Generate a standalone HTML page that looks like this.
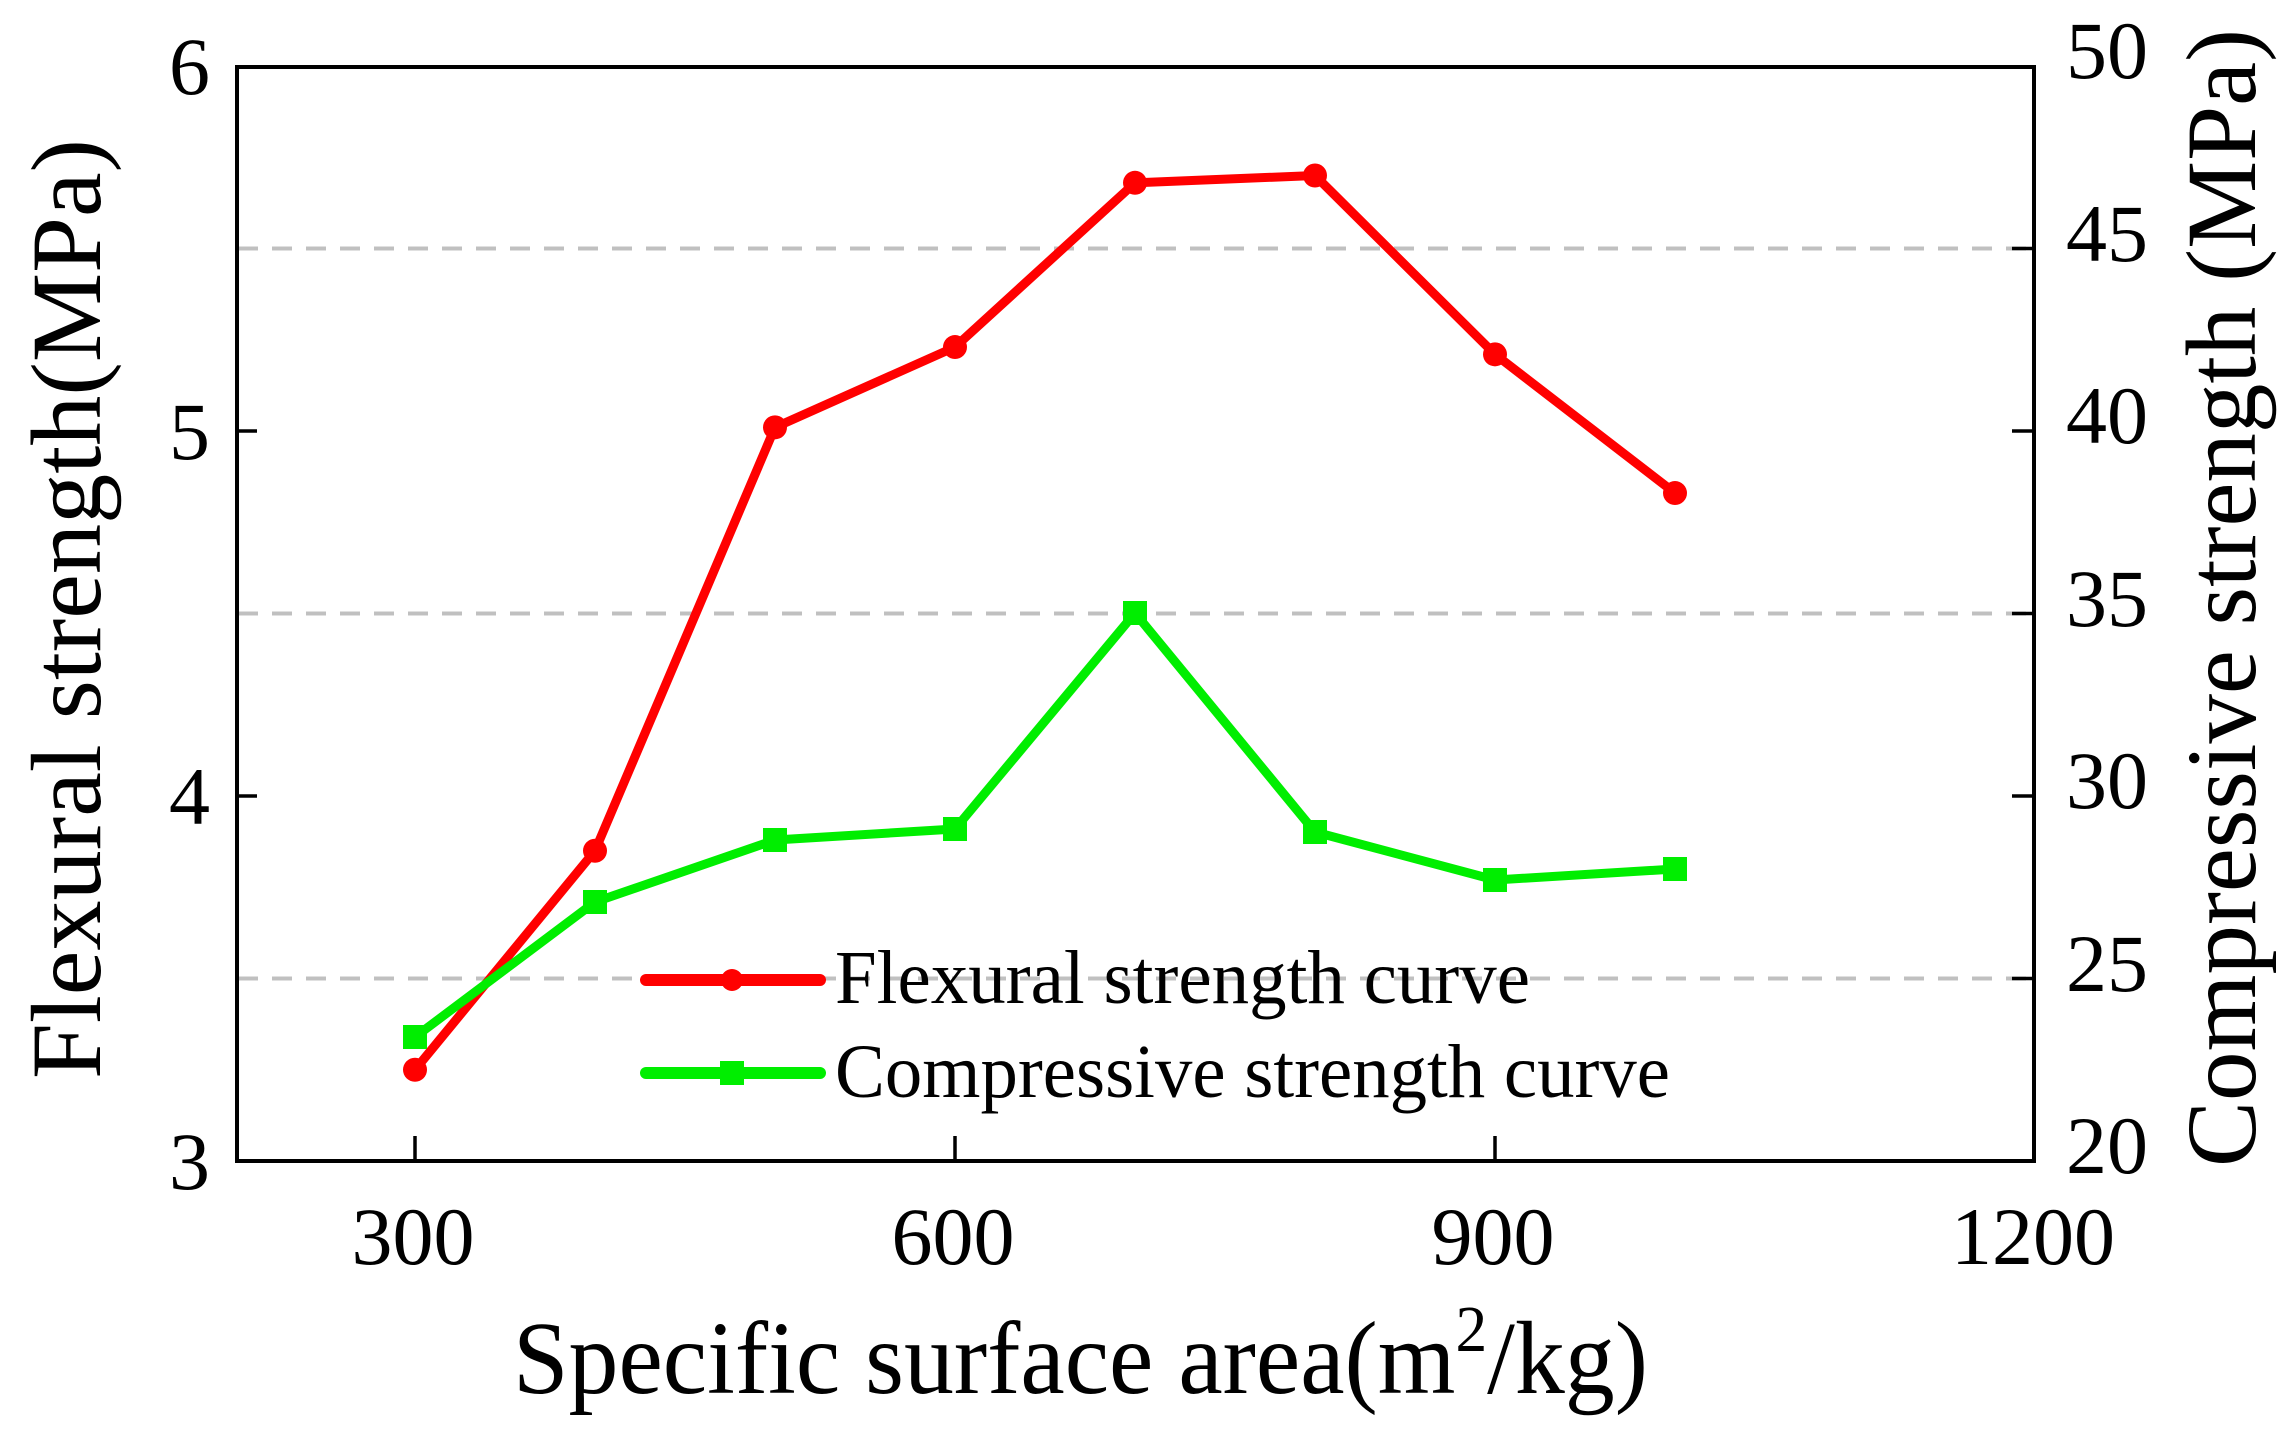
<!DOCTYPE html>
<html><head><meta charset="utf-8"><style>html,body{margin:0;padding:0;background:#fff}svg{display:block}text{font-family:"Liberation Serif",serif;fill:#000}</style></head><body>
<svg width="2287" height="1432" viewBox="0 0 2287 1432" xmlns="http://www.w3.org/2000/svg">
<g stroke="#c0c0c0" stroke-width="4" stroke-dasharray="20,14">
<line x1="238" y1="248.5" x2="2032" y2="248.5"/>
<line x1="238" y1="613.5" x2="2032" y2="613.5"/>
<line x1="238" y1="978.5" x2="2032" y2="978.5"/>
</g>
<rect x="237" y="67" width="1797" height="1094" fill="none" stroke="#000" stroke-width="4"/>
<g stroke="#000" stroke-width="3.5">
<line x1="237" y1="431" x2="257" y2="431"/><line x1="237" y1="796" x2="257" y2="796"/>
<line x1="2034" y1="248.5" x2="2012" y2="248.5"/><line x1="2034" y1="431" x2="2012" y2="431"/><line x1="2034" y1="613.5" x2="2012" y2="613.5"/><line x1="2034" y1="796" x2="2012" y2="796"/><line x1="2034" y1="978.5" x2="2012" y2="978.5"/>
<line x1="415" y1="1161" x2="415" y2="1136"/><line x1="955" y1="1161" x2="955" y2="1136"/><line x1="1495" y1="1161" x2="1495" y2="1136"/>
</g>
<g font-size="82" text-anchor="end">
<text x="210" y="94">6</text><text x="210" y="459">5</text><text x="210" y="824">4</text><text x="210" y="1189">3</text>
</g>
<g font-size="82" text-anchor="start">
<text x="2066" y="78">50</text><text x="2066" y="261">45</text><text x="2066" y="443">40</text><text x="2066" y="626">35</text><text x="2066" y="808">30</text><text x="2066" y="991">25</text><text x="2066" y="1173">20</text>
</g>
<g font-size="82" text-anchor="middle">
<text x="413" y="1264">300</text><text x="953" y="1264">600</text><text x="1493" y="1264">900</text><text x="2033" y="1264">1200</text>
</g>
<text x="513" y="1393" font-size="104" textLength="1135" lengthAdjust="spacingAndGlyphs">Specific surface area(m<tspan font-size="66" dy="-42">2</tspan><tspan dy="42">/kg)</tspan></text>
<text transform="translate(100,1079) rotate(-90)" font-size="100" textLength="940" lengthAdjust="spacingAndGlyphs">Flexural strength(MPa)</text>
<text transform="translate(2255,1167) rotate(-90)" font-size="100" textLength="1138" lengthAdjust="spacingAndGlyphs">Compressive strength (MPa)</text>
<polyline fill="none" stroke="#ff0000" stroke-width="9" stroke-linejoin="round" points="415,1069.75 595,850.75 775,427.35 955,347.05 1135,182.8 1315,175.5 1495,354.35 1675,493.05"/>
<g fill="#ff0000">
<circle cx="415" cy="1069.75" r="12"/><circle cx="595" cy="850.75" r="12"/><circle cx="775" cy="427.35" r="12"/><circle cx="955" cy="347.05" r="12"/><circle cx="1135" cy="182.8" r="12"/><circle cx="1315" cy="175.5" r="12"/><circle cx="1495" cy="354.35" r="12"/><circle cx="1675" cy="493.05" r="12"/>
</g>
<polyline fill="none" stroke="#00ee00" stroke-width="9" stroke-linejoin="round" points="415,1037 595,902 775,840 955,829 1135,613 1315,832 1495,880 1675,869"/>
<g fill="#00ee00">
<rect x="403" y="1025" width="24" height="24"/><rect x="583" y="890" width="24" height="24"/><rect x="763" y="828" width="24" height="24"/><rect x="943" y="817" width="24" height="24"/><rect x="1123" y="601" width="24" height="24"/><rect x="1303" y="820" width="24" height="24"/><rect x="1483" y="868" width="24" height="24"/><rect x="1663" y="857" width="24" height="24"/>
</g>
<line x1="646" y1="980" x2="820" y2="980" stroke="#ff0000" stroke-width="12" stroke-linecap="round"/>
<circle cx="732" cy="980" r="11" fill="#ff0000"/>
<line x1="646" y1="1073" x2="820" y2="1073" stroke="#00ee00" stroke-width="12" stroke-linecap="round"/>
<rect x="720" y="1061" width="24" height="24" fill="#00ee00"/>
<text x="835" y="1003" font-size="76" textLength="695" lengthAdjust="spacingAndGlyphs">Flexural strength curve</text>
<text x="835" y="1097" font-size="76" textLength="835" lengthAdjust="spacingAndGlyphs">Compressive strength curve</text>
</svg>
</body></html>
